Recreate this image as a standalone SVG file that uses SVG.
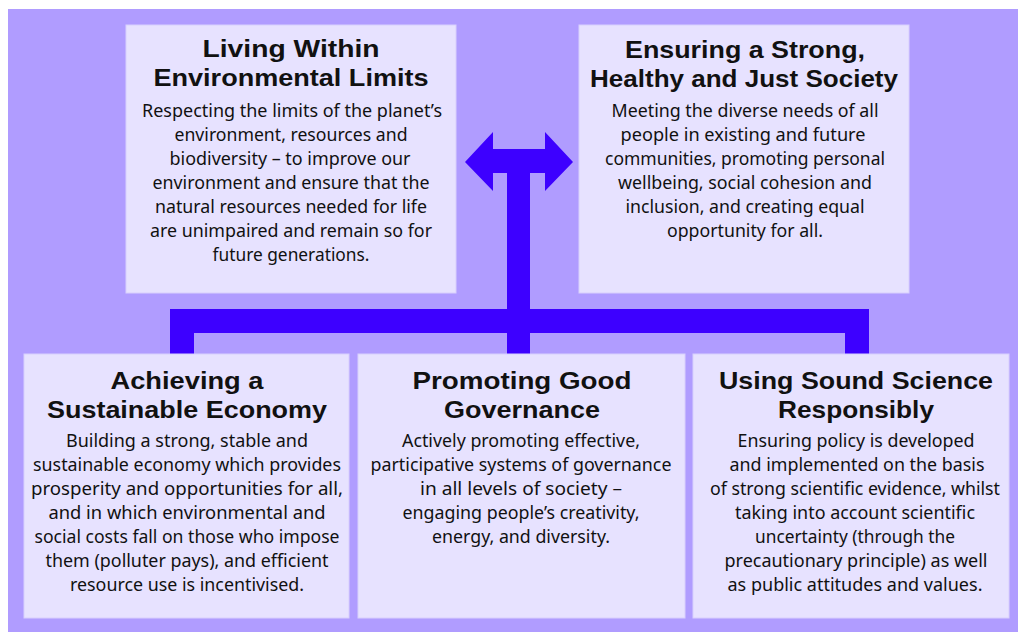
<svg xmlns="http://www.w3.org/2000/svg" width="1018" height="632" viewBox="0 0 1018 632">
<style>
.box{fill:#e7e2ff;stroke:#d8cffd;stroke-width:1}
.t{font-family:"Liberation Sans",Arial,sans-serif;font-weight:bold;font-size:24px;fill:#111}
.b{font-family:"Noto Sans","Open Sans","Liberation Sans",sans-serif;font-size:18.5px;fill:#111}
.con{fill:#3d00ff}
</style>
<rect x="0" y="0" width="1018" height="632" fill="#ffffff"/>
<rect x="8" y="9" width="1010" height="623" fill="#b09cff"/>

<g id="connectors">
<path class="con" d="M465,162 L493,132 L493,149 L545,149 L545,132 L573,162 L545,191 L545,173 L530,173 L530,309 L869,309 L869,354 L845,354 L845,333 L530,333 L530,354 L507,354 L507,333 L194,333 L194,354 L170,354 L170,309 L507,309 L507,173 L493,173 L493,191 Z"/>
</g>

<g id="node-environment">
<rect class="box" x="126" y="25" width="330" height="268"/>
<text class="t" x="291" y="57" text-anchor="middle" textLength="177" lengthAdjust="spacingAndGlyphs">Living Within</text>
<text class="t" x="291" y="86" text-anchor="middle" textLength="275" lengthAdjust="spacingAndGlyphs">Environmental Limits</text>
<text class="b" x="292" y="117" text-anchor="middle" textLength="300" lengthAdjust="spacingAndGlyphs">Respecting the limits of the planet’s</text>
<text class="b" x="291" y="141" text-anchor="middle" textLength="233" lengthAdjust="spacingAndGlyphs">environment, resources and</text>
<text class="b" x="290" y="165" text-anchor="middle" textLength="241" lengthAdjust="spacingAndGlyphs">biodiversity – to improve our</text>
<text class="b" x="291" y="189" text-anchor="middle" textLength="277" lengthAdjust="spacingAndGlyphs">environment and ensure that the</text>
<text class="b" x="291" y="213" text-anchor="middle" textLength="272" lengthAdjust="spacingAndGlyphs">natural resources needed for life</text>
<text class="b" x="291" y="237" text-anchor="middle" textLength="282" lengthAdjust="spacingAndGlyphs">are unimpaired and remain so for</text>
<text class="b" x="291" y="261" text-anchor="middle" textLength="157" lengthAdjust="spacingAndGlyphs">future generations.</text>
</g>

<g id="node-society">
<rect class="box" x="579" y="25" width="330" height="268"/>
<text class="t" x="745" y="58" text-anchor="middle" textLength="240" lengthAdjust="spacingAndGlyphs">Ensuring a Strong,</text>
<text class="t" x="744" y="87" text-anchor="middle" textLength="308" lengthAdjust="spacingAndGlyphs">Healthy and Just Society</text>
<text class="b" x="745" y="117" text-anchor="middle" textLength="267" lengthAdjust="spacingAndGlyphs">Meeting the diverse needs of all</text>
<text class="b" x="743" y="141" text-anchor="middle" textLength="245" lengthAdjust="spacingAndGlyphs">people in existing and future</text>
<text class="b" x="745" y="165" text-anchor="middle" textLength="280" lengthAdjust="spacingAndGlyphs">communities, promoting personal</text>
<text class="b" x="745" y="189" text-anchor="middle" textLength="254" lengthAdjust="spacingAndGlyphs">wellbeing, social cohesion and</text>
<text class="b" x="745" y="213" text-anchor="middle" textLength="239" lengthAdjust="spacingAndGlyphs">inclusion, and creating equal</text>
<text class="b" x="745" y="237" text-anchor="middle" textLength="156" lengthAdjust="spacingAndGlyphs">opportunity for all.</text>
</g>

<g id="node-economy">
<rect class="box" x="24" y="354" width="325" height="264"/>
<text class="t" x="187" y="389" text-anchor="middle" textLength="153" lengthAdjust="spacingAndGlyphs">Achieving a</text>
<text class="t" x="187" y="418" text-anchor="middle" textLength="280" lengthAdjust="spacingAndGlyphs">Sustainable Economy</text>
<text class="b" x="187" y="447" text-anchor="middle" textLength="242" lengthAdjust="spacingAndGlyphs">Building a strong, stable and</text>
<text class="b" x="187" y="471" text-anchor="middle" textLength="308" lengthAdjust="spacingAndGlyphs">sustainable economy which provides</text>
<text class="b" x="187" y="495" text-anchor="middle" textLength="312" lengthAdjust="spacingAndGlyphs">prosperity and opportunities for all,</text>
<text class="b" x="187" y="519" text-anchor="middle" textLength="277" lengthAdjust="spacingAndGlyphs">and in which environmental and</text>
<text class="b" x="187" y="543" text-anchor="middle" textLength="305" lengthAdjust="spacingAndGlyphs">social costs fall on those who impose</text>
<text class="b" x="187" y="567" text-anchor="middle" textLength="283" lengthAdjust="spacingAndGlyphs">them (polluter pays), and efficient</text>
<text class="b" x="187" y="591" text-anchor="middle" textLength="234" lengthAdjust="spacingAndGlyphs">resource use is incentivised.</text>
</g>

<g id="node-governance">
<rect class="box" x="358" y="354" width="327" height="264"/>
<text class="t" x="522" y="389" text-anchor="middle" textLength="219" lengthAdjust="spacingAndGlyphs">Promoting Good</text>
<text class="t" x="522" y="418" text-anchor="middle" textLength="156" lengthAdjust="spacingAndGlyphs">Governance</text>
<text class="b" x="521" y="447" text-anchor="middle" textLength="238" lengthAdjust="spacingAndGlyphs">Actively promoting effective,</text>
<text class="b" x="521" y="471" text-anchor="middle" textLength="301" lengthAdjust="spacingAndGlyphs">participative systems of governance</text>
<text class="b" x="521" y="495" text-anchor="middle" textLength="202" lengthAdjust="spacingAndGlyphs">in all levels of society –</text>
<text class="b" x="521" y="519" text-anchor="middle" textLength="237" lengthAdjust="spacingAndGlyphs">engaging people’s creativity,</text>
<text class="b" x="521" y="543" text-anchor="middle" textLength="178" lengthAdjust="spacingAndGlyphs">energy, and diversity.</text>
</g>

<g id="node-science">
<rect class="box" x="693" y="354" width="316" height="264"/>
<text class="t" x="856" y="389" text-anchor="middle" textLength="274" lengthAdjust="spacingAndGlyphs">Using Sound Science</text>
<text class="t" x="856" y="418" text-anchor="middle" textLength="156" lengthAdjust="spacingAndGlyphs">Responsibly</text>
<text class="b" x="856" y="447" text-anchor="middle" textLength="237" lengthAdjust="spacingAndGlyphs">Ensuring policy is developed</text>
<text class="b" x="857" y="471" text-anchor="middle" textLength="255" lengthAdjust="spacingAndGlyphs">and implemented on the basis</text>
<text class="b" x="855" y="495" text-anchor="middle" textLength="290" lengthAdjust="spacingAndGlyphs">of strong scientific evidence, whilst</text>
<text class="b" x="855" y="519" text-anchor="middle" textLength="240" lengthAdjust="spacingAndGlyphs">taking into account scientific</text>
<text class="b" x="855" y="543" text-anchor="middle" textLength="200" lengthAdjust="spacingAndGlyphs">uncertainty (through the</text>
<text class="b" x="856" y="567" text-anchor="middle" textLength="263" lengthAdjust="spacingAndGlyphs">precautionary principle) as well</text>
<text class="b" x="855" y="591" text-anchor="middle" textLength="255" lengthAdjust="spacingAndGlyphs">as public attitudes and values.</text>
</g>
</svg>
